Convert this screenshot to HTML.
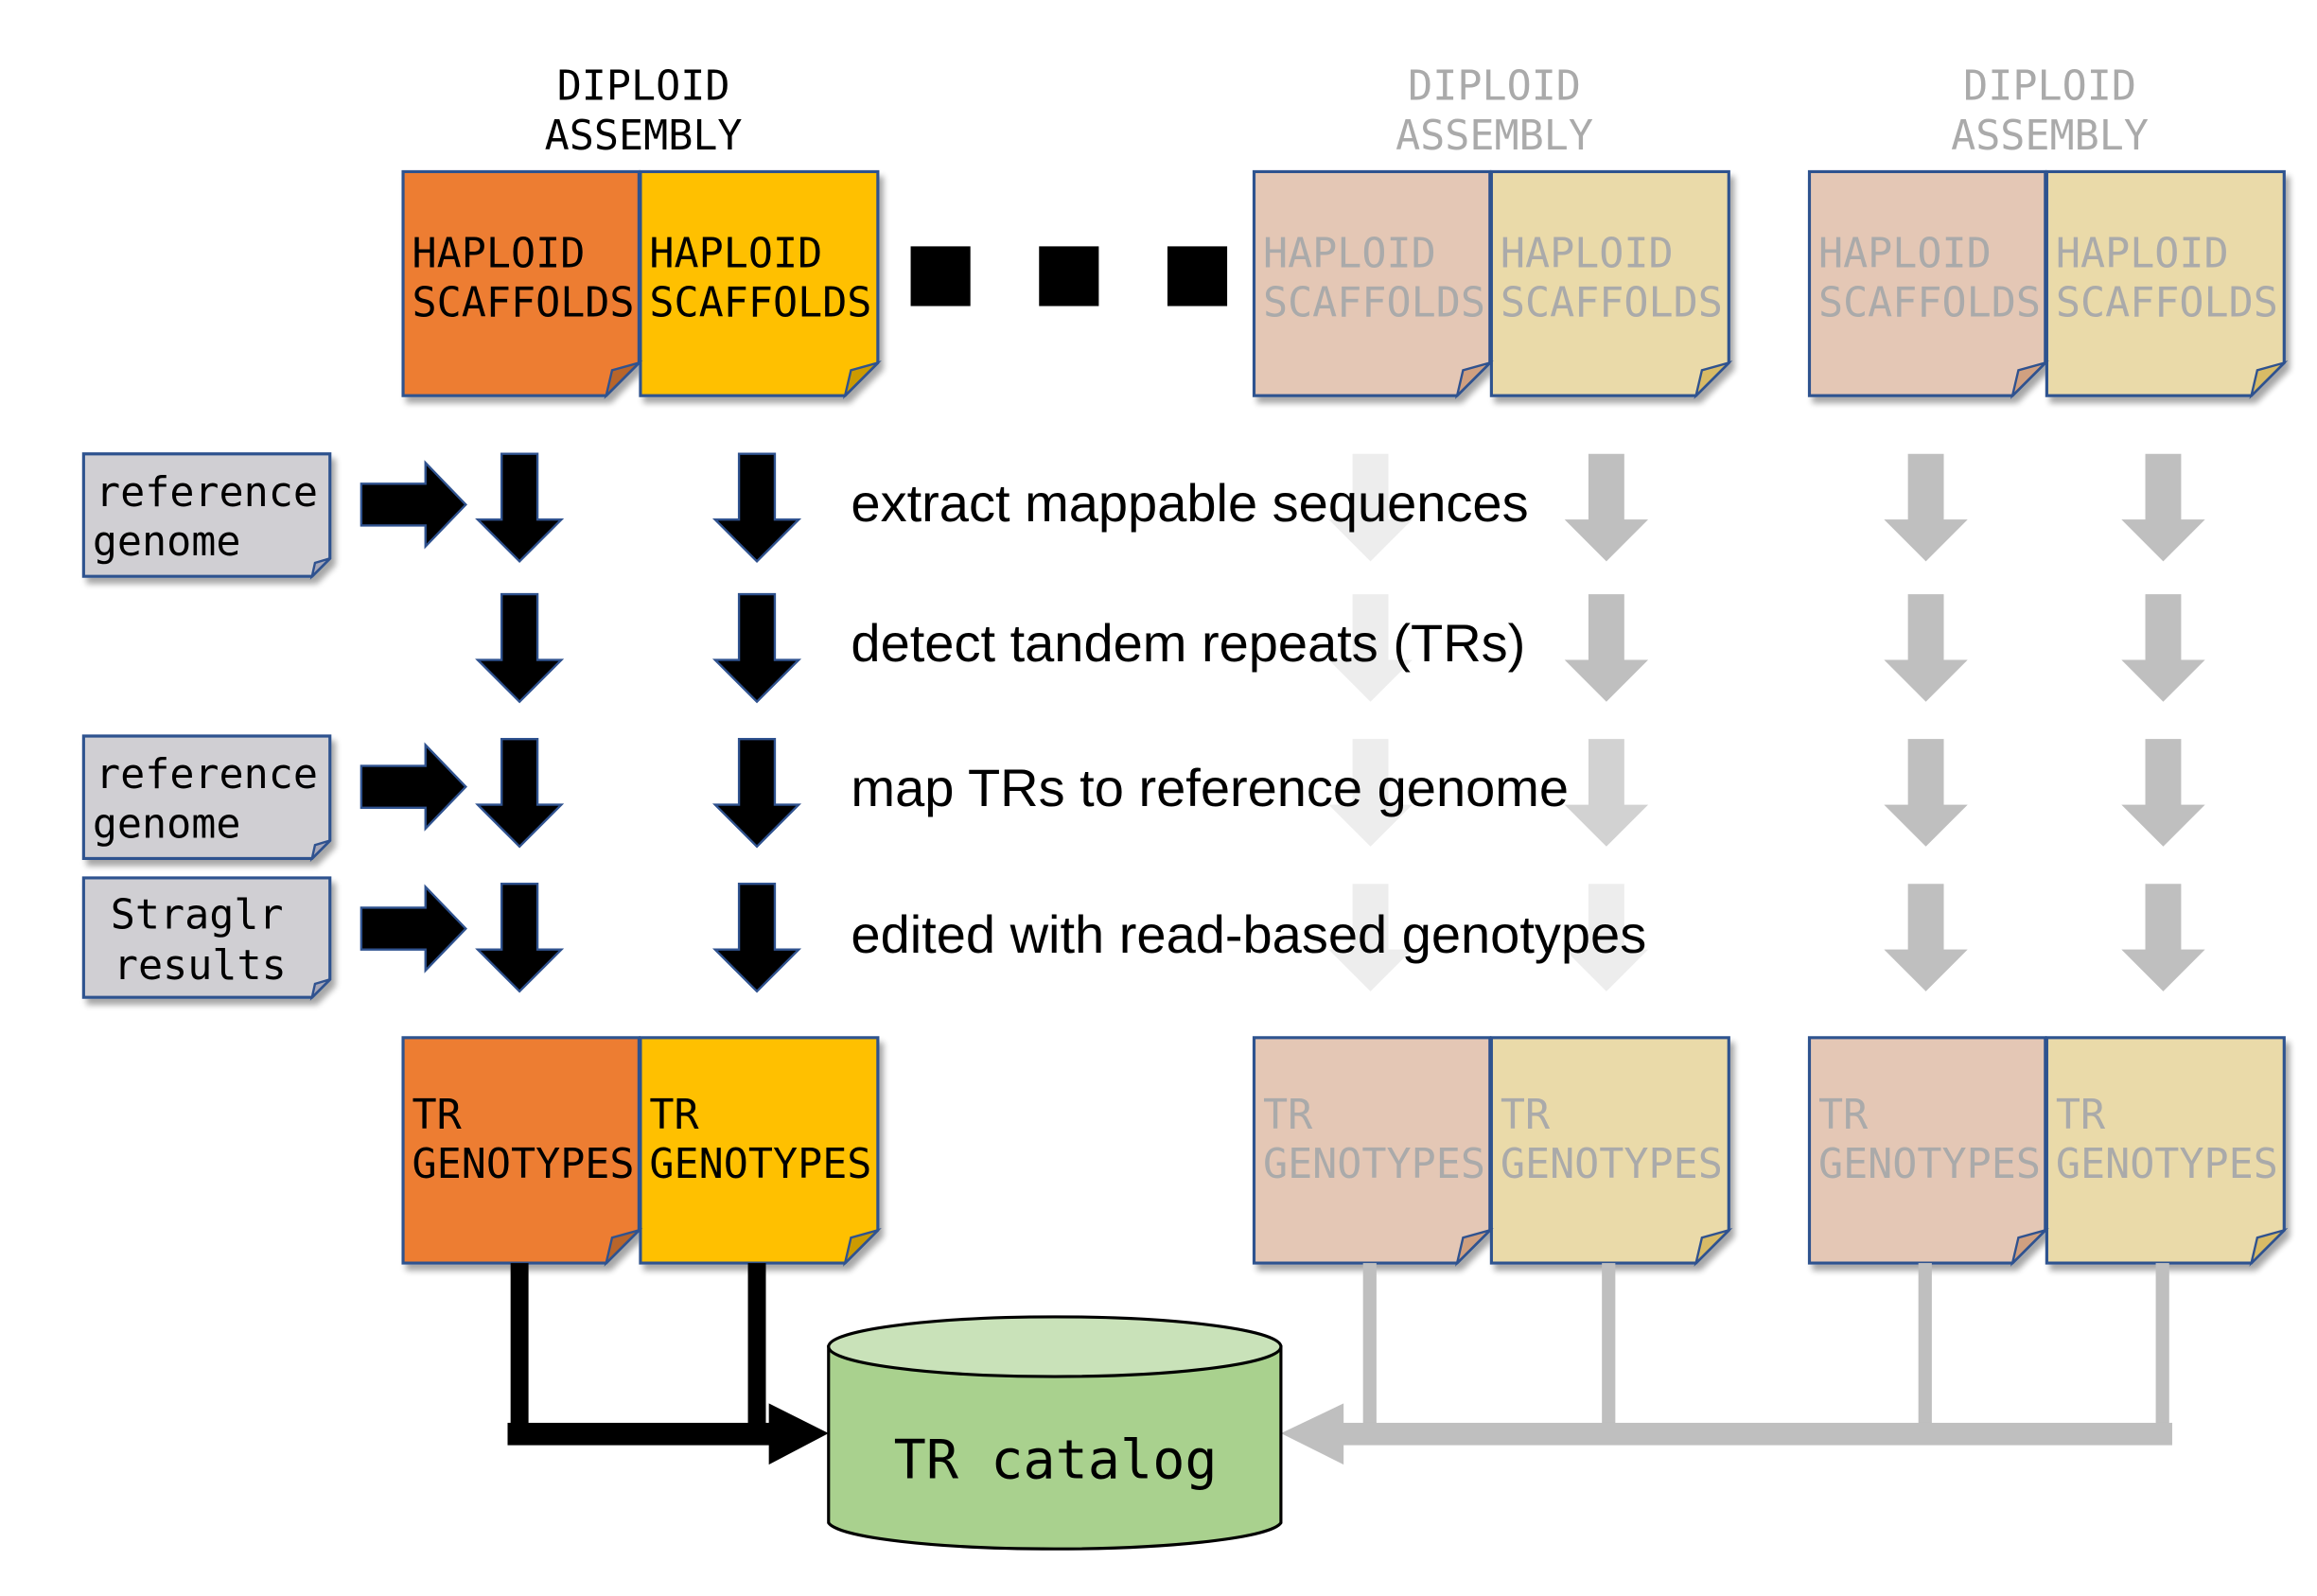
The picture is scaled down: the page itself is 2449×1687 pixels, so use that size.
<!DOCTYPE html>
<html><head><meta charset="utf-8"><style>html,body{margin:0;padding:0;background:#fff}svg{display:block}</style></head>
<body>
<svg width="2449" height="1687" viewBox="0 0 1552 1069" preserveAspectRatio="none" xmlns="http://www.w3.org/2000/svg">
<defs>
<filter id="sh" x="-10%" y="-10%" width="130%" height="130%"><feGaussianBlur in="SourceAlpha" stdDeviation="2"/><feOffset dx="3" dy="4"/><feComponentTransfer><feFuncA type="linear" slope="0.35"/></feComponentTransfer><feMerge><feMergeNode/><feMergeNode in="SourceGraphic"/></feMerge></filter>
</defs>
<g font-family="DejaVu Sans Mono, Liberation Mono, monospace">
<g font-size="27.5" text-anchor="middle">
<text x="431" y="67" fill="#000">DIPLOID</text><text x="431" y="100" fill="#000">ASSEMBLY</text>
<text x="1001" y="67" fill="#AAAAAA">DIPLOID</text><text x="1001" y="100" fill="#AAAAAA">ASSEMBLY</text>
<text x="1373" y="67" fill="#AAAAAA">DIPLOID</text><text x="1373" y="100" fill="#AAAAAA">ASSEMBLY</text>
</g>
</g>

<g stroke="#2F528F" stroke-width="2" filter="url(#sh)">
<path d="M270,115H428V243L406,265H270Z" fill="#ED7D31"/>
<path d="M429,115H588V243L566,265H429Z" fill="#FFC000"/>
<path d="M840,115H998V243L976,265H840Z" fill="#E4C7B5"/>
<path d="M999,115H1158V243L1136,265H999Z" fill="#EADAA9"/>
<path d="M1212,115H1370V243L1348,265H1212Z" fill="#E4C7B5"/>
<path d="M1371,115H1530V243L1508,265H1371Z" fill="#EADAA9"/>
<path d="M270,695H428V824L406,846H270Z" fill="#ED7D31"/>
<path d="M429,695H588V824L566,846H429Z" fill="#FFC000"/>
<path d="M840,695H998V824L976,846H840Z" fill="#E4C7B5"/>
<path d="M999,695H1158V824L1136,846H999Z" fill="#EADAA9"/>
<path d="M1212,695H1370V824L1348,846H1212Z" fill="#E4C7B5"/>
<path d="M1371,695H1530V824L1508,846H1371Z" fill="#EADAA9"/>
<path d="M56,304H221V374L209,386H56Z" fill="#D0CFD3"/>
<path d="M56,493H221V563L209,575H56Z" fill="#D0CFD3"/>
<path d="M56,588H221V656L209,668H56Z" fill="#D0CFD3"/>
</g>
<g stroke="#2F528F" stroke-width="1.5">
<path d="M406,265L428,243L410,248Z" fill="#B8652A"/>
<path d="M566,265L588,243L570,248Z" fill="#CC9A00"/>
<path d="M976,265L998,243L980,248Z" fill="#D0A080"/>
<path d="M1136,265L1158,243L1140,248Z" fill="#D8BB66"/>
<path d="M1348,265L1370,243L1352,248Z" fill="#D0A080"/>
<path d="M1508,265L1530,243L1512,248Z" fill="#D8BB66"/>
<path d="M406,846L428,824L410,829Z" fill="#B8652A"/>
<path d="M566,846L588,824L570,829Z" fill="#CC9A00"/>
<path d="M976,846L998,824L980,829Z" fill="#D0A080"/>
<path d="M1136,846L1158,824L1140,829Z" fill="#D8BB66"/>
<path d="M1348,846L1370,824L1352,829Z" fill="#D0A080"/>
<path d="M1508,846L1530,824L1512,829Z" fill="#D8BB66"/>
<path d="M209,386L221,374L211,377Z" fill="#A8A8B8"/>
<path d="M209,575L221,563L211,566Z" fill="#A8A8B8"/>
<path d="M209,668L221,656L211,659Z" fill="#A8A8B8"/>
</g>

<g font-family="DejaVu Sans Mono, Liberation Mono, monospace" font-size="27.5">
<text x="276" y="179">HAPLOID</text><text x="276" y="212">SCAFFOLDS</text>
<text x="435" y="179">HAPLOID</text><text x="435" y="212">SCAFFOLDS</text>
<g fill="#AAAAAA">
<text x="846" y="179">HAPLOID</text><text x="846" y="212">SCAFFOLDS</text>
<text x="1005" y="179">HAPLOID</text><text x="1005" y="212">SCAFFOLDS</text>
<text x="1218" y="179">HAPLOID</text><text x="1218" y="212">SCAFFOLDS</text>
<text x="1377" y="179">HAPLOID</text><text x="1377" y="212">SCAFFOLDS</text>
</g>
<text x="276" y="756">TR</text><text x="276" y="789">GENOTYPES</text>
<text x="435" y="756">TR</text><text x="435" y="789">GENOTYPES</text>
<g fill="#AAAAAA">
<text x="846" y="756">TR</text><text x="846" y="789">GENOTYPES</text>
<text x="1005" y="756">TR</text><text x="1005" y="789">GENOTYPES</text>
<text x="1218" y="756">TR</text><text x="1218" y="789">GENOTYPES</text>
<text x="1377" y="756">TR</text><text x="1377" y="789">GENOTYPES</text>
</g>
<text x="64" y="339">reference</text><text x="62" y="372">genome</text>
<text x="64" y="528">reference</text><text x="62" y="561">genome</text>
<text x="74" y="622">Straglr</text><text x="76" y="656">results</text>
</g>

<rect x="610" y="165" width="40" height="40" fill="#000"/>
<rect x="696" y="165" width="40" height="40" fill="#000"/>
<rect x="782" y="165" width="40" height="40" fill="#000"/>

<g fill="#000" stroke="#2F528F" stroke-width="1.5">
<path d="M242,324H285V310L312,338L285,366V352H242Z"/>
<path d="M242,513H285V499L312,527L285,555V541H242Z"/>
<path d="M242,608H285V594L312,622L285,650V636H242Z"/>
</g>

<g fill="#000" stroke="#2F528F" stroke-width="1.5">
<path d="M336,304H360V348H376L348,376L320,348H336Z"/>
<path d="M495,304H519V348H535L507,376L479,348H495Z"/>
<path d="M336,398H360V442H376L348,470L320,442H336Z"/>
<path d="M495,398H519V442H535L507,470L479,442H495Z"/>
<path d="M336,495H360V539H376L348,567L320,539H336Z"/>
<path d="M495,495H519V539H535L507,567L479,539H495Z"/>
<path d="M336,592H360V636H376L348,664L320,636H336Z"/>
<path d="M495,592H519V636H535L507,664L479,636H495Z"/>
</g>
<g fill="#BFBFBF">
<path d="M1064,304H1088V348H1104L1076,376L1048,348H1064Z"/>
<path d="M1064,398H1088V442H1104L1076,470L1048,442H1064Z"/>
<path d="M1064,495H1088V539H1104L1076,567L1048,539H1064Z" opacity="0.7"/>
<path d="M1278,304H1302V348H1318L1290,376L1262,348H1278Z"/>
<path d="M1278,398H1302V442H1318L1290,470L1262,442H1278Z"/>
<path d="M1278,495H1302V539H1318L1290,567L1262,539H1278Z"/>
<path d="M1278,592H1302V636H1318L1290,664L1262,636H1278Z"/>
<path d="M1437,304H1461V348H1477L1449,376L1421,348H1437Z"/>
<path d="M1437,398H1461V442H1477L1449,470L1421,442H1437Z"/>
<path d="M1437,495H1461V539H1477L1449,567L1421,539H1437Z"/>
<path d="M1437,592H1461V636H1477L1449,664L1421,636H1437Z"/>
</g>
<g fill="#EDEDED">
<path d="M906,304H930V348H946L918,376L890,348H906Z"/>
<path d="M906,398H930V442H946L918,470L890,442H906Z"/>
<path d="M906,495H930V539H946L918,567L890,539H906Z"/>
<path d="M906,592H930V636H946L918,664L890,636H906Z"/>
<path d="M1064,592H1088V636H1104L1076,664L1048,636H1064Z"/>
</g>

<g font-family="Liberation Sans, Arial, sans-serif" font-size="35.5" fill="#000">
<text x="570" y="349">extract mappable sequences</text>
<text x="570" y="443">detect tandem repeats (TRs)</text>
<text x="570" y="540">map TRs to reference genome</text>
<text x="570" y="638">edited with read-based genotypes</text>
</g>

<g fill="#000">
<rect x="342" y="846" width="12" height="120"/>
<rect x="501" y="846" width="12" height="120"/>
<rect x="340" y="953" width="178" height="15"/>
<path d="M515,940L555,960L515,981Z"/>
</g>
<g fill="#BFBFBF">
<rect x="913" y="846" width="9" height="118"/>
<rect x="1073" y="846" width="9" height="118"/>
<rect x="1285" y="846" width="9" height="118"/>
<rect x="1444" y="846" width="9" height="118"/>
<rect x="895" y="953" width="560" height="15"/>
<path d="M900,940L858,960L900,981Z"/>
</g>

<g stroke="#000" stroke-width="2">
<path d="M555,902V1020A152,19 0 0 0 858,1020V902Z" fill="#A9D18E"/>
<ellipse cx="706.5" cy="902" rx="151.5" ry="20" fill="#C9E2B9"/>
</g>
<text x="707" y="990" text-anchor="middle" font-family="DejaVu Sans Mono, Liberation Mono, monospace" font-size="36">TR catalog</text>
</svg>
</body></html>
